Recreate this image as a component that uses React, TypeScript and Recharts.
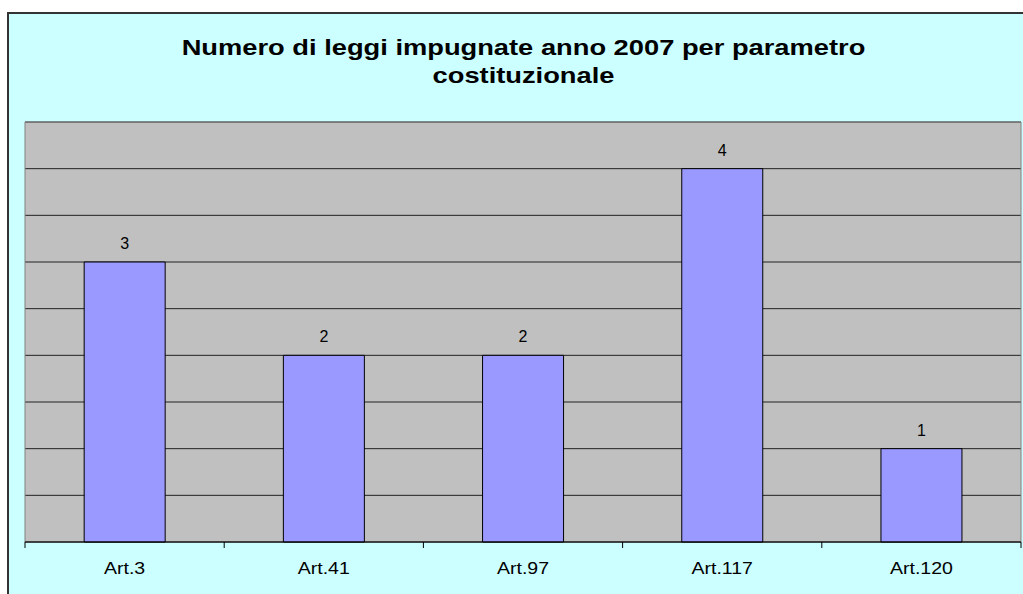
import { BarChart, Bar, XAxis, YAxis, CartesianGrid, LabelList, ReferenceArea } from 'recharts'

const categories = ['Art.3', 'Art.41', 'Art.97', 'Art.117', 'Art.120']
const leggi = [3, 2, 2, 4, 1]
const yTicks = [0, 0.5, 1, 1.5, 2, 2.5, 3, 3.5, 4]

const chartData = categories.map((name, i) => ({ name, leggi: leggi[i] }))

const FONT = '"Liberation Sans", Arial, sans-serif'
const BAND = 996 / categories.length

// category axis: tick marks sit on the category borders, labels in the middle
const CategoryTick = (props: any) => {
  const { x, y, payload, index } = props
  const last = index === categories.length - 1
  return (
    <g>
      <line x1={x - BAND / 2} y1={y - 8} x2={x - BAND / 2} y2={y - 2} stroke="#000" />
      {last && <line x1={x + BAND / 2} y1={y - 8} x2={x + BAND / 2} y2={y - 2} stroke="#000" />}
      <g transform={`translate(${x},${y + 24})`}>
        <text transform="scale(1.22,1)" textAnchor="middle" fontSize={16} fontFamily={FONT} fill="#000">
          {payload.value}
        </text>
      </g>
    </g>
  )
}

const App = () => {
  return (
    <div
      style={{
        position: 'absolute',
        left: 7,
        top: 12,
        width: 1016,
        height: 582,
        boxSizing: 'border-box',
        borderTop: '2px solid #333',
        borderLeft: '2px solid #333',
        background: '#CCFFFF',
        overflow: 'hidden',
      }}
    >
      <div
        style={{
          position: 'absolute',
          left: 0,
          top: 20,
          width: 1029,
          textAlign: 'center',
          fontFamily: FONT,
          fontWeight: 'bold',
          fontSize: 22,
          lineHeight: '28px',
          color: '#000',
          transform: 'scaleX(1.24)',
        }}
      >
        Numero di leggi impugnate anno 2007 per parametro
        <br />
        costituzionale
      </div>
      <BarChart
        width={1014}
        height={580}
        data={chartData}
        margin={{ top: 108, right: 2, bottom: 22, left: 16 }}
        barCategoryGap="29.7%"
      >
        <CartesianGrid vertical={false} fill="#C0C0C0" stroke="#222" />
        <ReferenceArea y1={0} y2={4.5} fill="none" stroke="#808080" strokeWidth={1} />
        <YAxis hide domain={[0, 4.5]} ticks={yTicks} />
        <XAxis
          dataKey="name"
          height={30}
          axisLine={{ stroke: '#000' }}
          tickLine={false}
          tick={<CategoryTick />}
          interval={0}
        />
        <Bar dataKey="leggi" fill="#9999FF" stroke="#000" strokeWidth={1} isAnimationActive={false}>
          <LabelList dataKey="leggi" position="top" offset={13} fontSize={16} fontFamily={FONT} fill="#000" />
        </Bar>
      </BarChart>
    </div>
  )
}

export default App
